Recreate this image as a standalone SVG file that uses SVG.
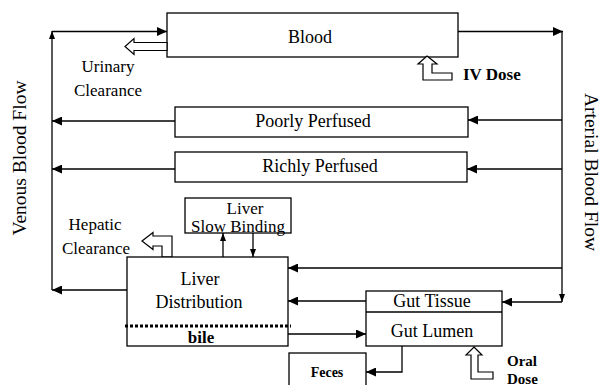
<svg xmlns="http://www.w3.org/2000/svg" width="601" height="385" viewBox="0 0 601 385">
<defs>
<style>
.box{fill:#fff;stroke:#000;stroke-width:1.3}
.ln{fill:none;stroke:#000;stroke-width:1.3}
.blk{fill:#fff;stroke:#000;stroke-width:1.2}
text{font-family:"Liberation Serif","Times New Roman",serif;fill:#000}
.t{font-size:18px;text-anchor:middle}
.s{font-size:17px;text-anchor:middle}
.b{font-weight:bold}
.side{font-size:19.5px;text-anchor:middle}
</style>
<marker id="ah" markerUnits="userSpaceOnUse" markerWidth="10" markerHeight="9" refX="10" refY="4.5" orient="auto"><path d="M0,0 L10,4.5 L0,9 z" fill="#000"/></marker>
<marker id="as" markerUnits="userSpaceOnUse" markerWidth="8" markerHeight="6" refX="8" refY="3" orient="auto"><path d="M0,0 L8,3 L0,6 z" fill="#000"/></marker>
</defs>
<rect width="601" height="385" fill="#fff"/>

<g id="connectors">
<line class="ln" x1="52" y1="290" x2="52" y2="31" marker-end="url(#as)"/>
<line class="ln" x1="52" y1="31.5" x2="167" y2="31.5" marker-end="url(#ah)"/>
<line class="ln" x1="175" y1="121" x2="52" y2="121" marker-end="url(#ah)"/>
<line class="ln" x1="175" y1="169" x2="52" y2="169" marker-end="url(#ah)"/>
<line class="ln" x1="127" y1="290" x2="52" y2="290" marker-end="url(#ah)"/>
<line class="ln" x1="458" y1="31.5" x2="563" y2="31.5" marker-end="url(#ah)"/>
<line class="ln" x1="562" y1="31" x2="562" y2="302" marker-end="url(#as)"/>
<line class="ln" x1="562" y1="120" x2="468" y2="120" marker-end="url(#ah)"/>
<line class="ln" x1="562" y1="169" x2="467" y2="169" marker-end="url(#ah)"/>
<line class="ln" x1="562" y1="268" x2="288" y2="268" marker-end="url(#ah)"/>
<line class="ln" x1="562" y1="302" x2="502" y2="302" marker-end="url(#ah)"/>
<line class="ln" x1="223" y1="257" x2="223" y2="233" marker-end="url(#as)"/>
<line class="ln" x1="253" y1="233" x2="253" y2="257" marker-end="url(#as)"/>
<line class="ln" x1="366" y1="301" x2="288" y2="301" marker-end="url(#ah)"/>
<line class="ln" x1="288" y1="334" x2="366" y2="334" marker-end="url(#ah)"/>
<polyline class="ln" points="402,346 402,372 366,372" marker-end="url(#ah)"/>
<line class="ln" x1="147" y1="313" x2="147" y2="342" marker-end="url(#ah)"/>
<line class="ln" x1="249" y1="313" x2="249" y2="342" marker-end="url(#ah)"/>
</g>

<g id="blood">
<rect class="box" x="167" y="13" width="291" height="44"/>
<text class="t" x="310" y="43">Blood</text>
</g>

<g id="urinary-clearance">
<polygon class="blk" points="167,42.5 134,42.5 134,38.5 125,46.5 134,54.5 134,50.5 167,50.5"/>
<text class="s" x="108" y="72">Urinary</text>
<text class="s" x="108" y="96">Clearance</text>
</g>

<g id="iv-dose">
<polygon class="blk" points="427,56 437,64 432,64 432,73 452,73 452,80 423,80 423,64 418,64"/>
<text class="s b" x="463" y="80" style="text-anchor:start">IV Dose</text>
</g>

<g id="poorly-perfused">
<rect class="box" x="175" y="107" width="293" height="30"/>
<text class="t" x="313" y="127">Poorly Perfused</text>
</g>

<g id="richly-perfused">
<rect class="box" x="175" y="152" width="292" height="30"/>
<text class="t" x="320" y="172">Richly Perfused</text>
</g>

<g id="liver-slow-binding">
<rect class="box" x="185" y="198" width="106" height="35"/>
<text class="s" x="245" y="214">Liver</text>
<text class="s" x="238" y="232">Slow Binding</text>
</g>

<g id="hepatic-clearance">
<polygon class="blk" points="172,257 172,236 153,236 153,232.5 142,241 153,249.5 153,246 162,246 162,257"/>
<text class="s" x="95" y="230">Hepatic</text>
<text class="s" x="96" y="254">Clearance</text>
</g>

<g id="liver-distribution">
<rect class="box" x="127" y="257" width="161" height="89"/>
<text class="t" x="200" y="285">Liver</text>
<text class="t" x="199" y="308">Distribution</text>
<line x1="125" y1="326" x2="291" y2="326" stroke="#000" stroke-width="3" stroke-dasharray="3,2"/>
<text class="s b" x="201" y="343">bile</text>
</g>

<g id="gut">
<rect class="box" x="366" y="291" width="136" height="55"/>
<line class="ln" x1="366" y1="312" x2="502" y2="312"/>
<text class="t" x="432" y="307">Gut Tissue</text>
<text class="t" x="432" y="337">Gut Lumen</text>
</g>

<g id="feces">
<rect class="box" x="289" y="353" width="77" height="40"/>
<text class="b" x="327" y="377" style="font-size:14px;text-anchor:middle">Feces</text>
</g>

<g id="oral-dose">
<polygon class="blk" points="474,347 482,355 478,355 478,372 493,372 493,379 471,379 471,355 466,355"/>
<text class="b" x="507" y="366" style="font-size:15px">Oral</text>
<text class="b" x="507" y="384" style="font-size:15px">Dose</text>
</g>

<g id="labels">
<text class="side" transform="translate(26,158) rotate(-90)">Venous Blood Flow</text>
<text class="side" transform="translate(585,172) rotate(90)">Arterial Blood Flow</text>
</g>
</svg>
